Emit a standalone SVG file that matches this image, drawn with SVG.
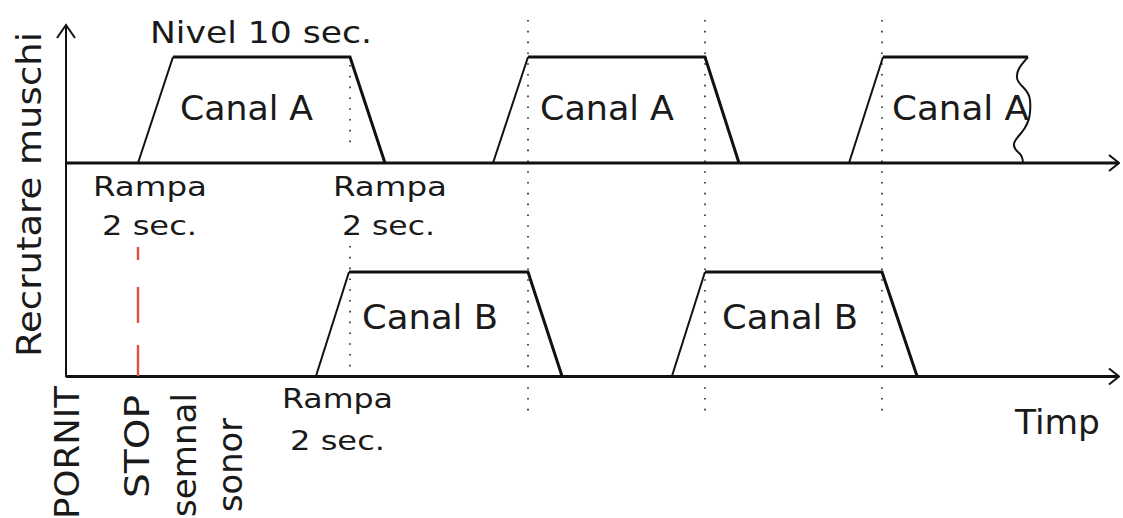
<svg xmlns="http://www.w3.org/2000/svg" width="1123" height="518" viewBox="0 0 1123 518">
  <defs>
    <style>
      .ax{stroke:#111;stroke-width:3;fill:none}
      .yax{stroke:#111;stroke-width:2;fill:none}
      .edge{stroke:#111;stroke-width:3;fill:none;stroke-linejoin:miter}
      .rise{stroke:#111;stroke-width:2;fill:none}
      .dot{stroke:#222;stroke-width:1.6;stroke-dasharray:1.6 9.2;fill:none}
      .stop{stroke:#e0503c;stroke-width:2.4;fill:none}
      text{font-family:"DejaVu Sans","Liberation Sans",sans-serif;fill:#1a1a1a}
      .big{font-size:34px}
      .mid{font-size:31px}
      .small{font-size:27px}
    </style>
    <marker id="arrow" viewBox="0 0 12 18" refX="11" refY="9" markerWidth="12" markerHeight="18" markerUnits="userSpaceOnUse" orient="auto">
      <path d="M1 1 L11 9 L1 17" fill="none" stroke="#111" stroke-width="2"/>
    </marker>
  </defs>
  <rect width="1123" height="518" fill="#fff"/>

  <!-- dotted time guides -->
  <g id="guides">
    <path class="dot" d="M350 65V146M350 246V374"/>
    <path class="dot" d="M528 20V412"/>
    <path class="dot" d="M705 20V412"/>
    <path class="dot" d="M882 20V412"/>
  </g>

  <!-- axes -->
  <g id="axes">
    <path class="yax" d="M66 377V27"/>
    <path class="yax" d="M57 38L66 25L75 38"/>
    <path class="ax" d="M66 163H1119" marker-end="url(#arrow)"/>
    <path class="ax" d="M66 376.5H1119" marker-end="url(#arrow)"/>
  </g>

  <!-- stop marker -->
  <g id="stop-line">
    <path class="stop" d="M138 247V260M138 287V323M138 345V376"/>
  </g>

  <!-- channel A pulses -->
  <g id="canal-a-1">
    <path class="rise" d="M138 163L173 57"/>
    <path class="edge" d="M173 57H350L385 163"/>
    <text class="big" x="180" y="120" textLength="133" lengthAdjust="spacingAndGlyphs">Canal A</text>
  </g>
  <g id="canal-a-2">
    <path class="rise" d="M493 163L528 57"/>
    <path class="edge" d="M528 57H705L739 163"/>
    <text class="big" x="540" y="120" textLength="134" lengthAdjust="spacingAndGlyphs">Canal A</text>
  </g>
  <g id="canal-a-3">
    <path class="rise" d="M849 163L883 57"/>
    <path class="edge" d="M883 57H1028"/>
    <path class="rise" d="M1028 57C1022 64 1016 70 1017 78C1018 86 1029 88 1030 100C1031 112 1030 122 1022 132C1015 140 1010 145 1018 152C1023 156 1023 160 1023 163"/>
    <text class="big" x="892" y="120" textLength="137" lengthAdjust="spacingAndGlyphs">Canal A</text>
  </g>

  <!-- channel B pulses -->
  <g id="canal-b-1">
    <path class="rise" d="M316 376L349 272"/>
    <path class="edge" d="M349 272H528L562 376"/>
    <text class="big" x="362" y="329" textLength="136" lengthAdjust="spacingAndGlyphs">Canal B</text>
  </g>
  <g id="canal-b-2">
    <path class="rise" d="M672 376L705 272"/>
    <path class="edge" d="M705 272H882L917 376"/>
    <text class="big" x="722" y="329" textLength="136" lengthAdjust="spacingAndGlyphs">Canal B</text>
  </g>

  <!-- labels -->
  <g id="labels">
    <text class="mid" x="150" y="43" textLength="222" lengthAdjust="spacingAndGlyphs">Nivel 10 sec.</text>
    <text class="small" x="93" y="196" textLength="114" lengthAdjust="spacingAndGlyphs">Rampa</text>
    <text class="small" x="102" y="235" textLength="95" lengthAdjust="spacingAndGlyphs">2 sec.</text>
    <text class="small" x="333" y="196" textLength="114" lengthAdjust="spacingAndGlyphs">Rampa</text>
    <text class="small" x="342" y="235" textLength="93" lengthAdjust="spacingAndGlyphs">2 sec.</text>
    <text class="small" x="282" y="408" textLength="111" lengthAdjust="spacingAndGlyphs">Rampa</text>
    <text class="small" x="290" y="450" textLength="95" lengthAdjust="spacingAndGlyphs">2 sec.</text>
    <text class="big" x="1015" y="434" textLength="85" lengthAdjust="spacingAndGlyphs">Timp</text>
    <text class="big" transform="translate(41,357) rotate(-90)" textLength="325" lengthAdjust="spacingAndGlyphs">Recrutare muschi</text>
    <text class="big" transform="translate(79,519) rotate(-90)" textLength="133" lengthAdjust="spacingAndGlyphs">PORNIT</text>
    <text class="big" transform="translate(149,498) rotate(-90)" textLength="103" lengthAdjust="spacingAndGlyphs">STOP</text>
    <text class="big" transform="translate(196,517) rotate(-90)" textLength="124" lengthAdjust="spacingAndGlyphs">semnal</text>
    <text class="big" transform="translate(242,512) rotate(-90)" textLength="94" lengthAdjust="spacingAndGlyphs">sonor</text>
  </g>
</svg>
